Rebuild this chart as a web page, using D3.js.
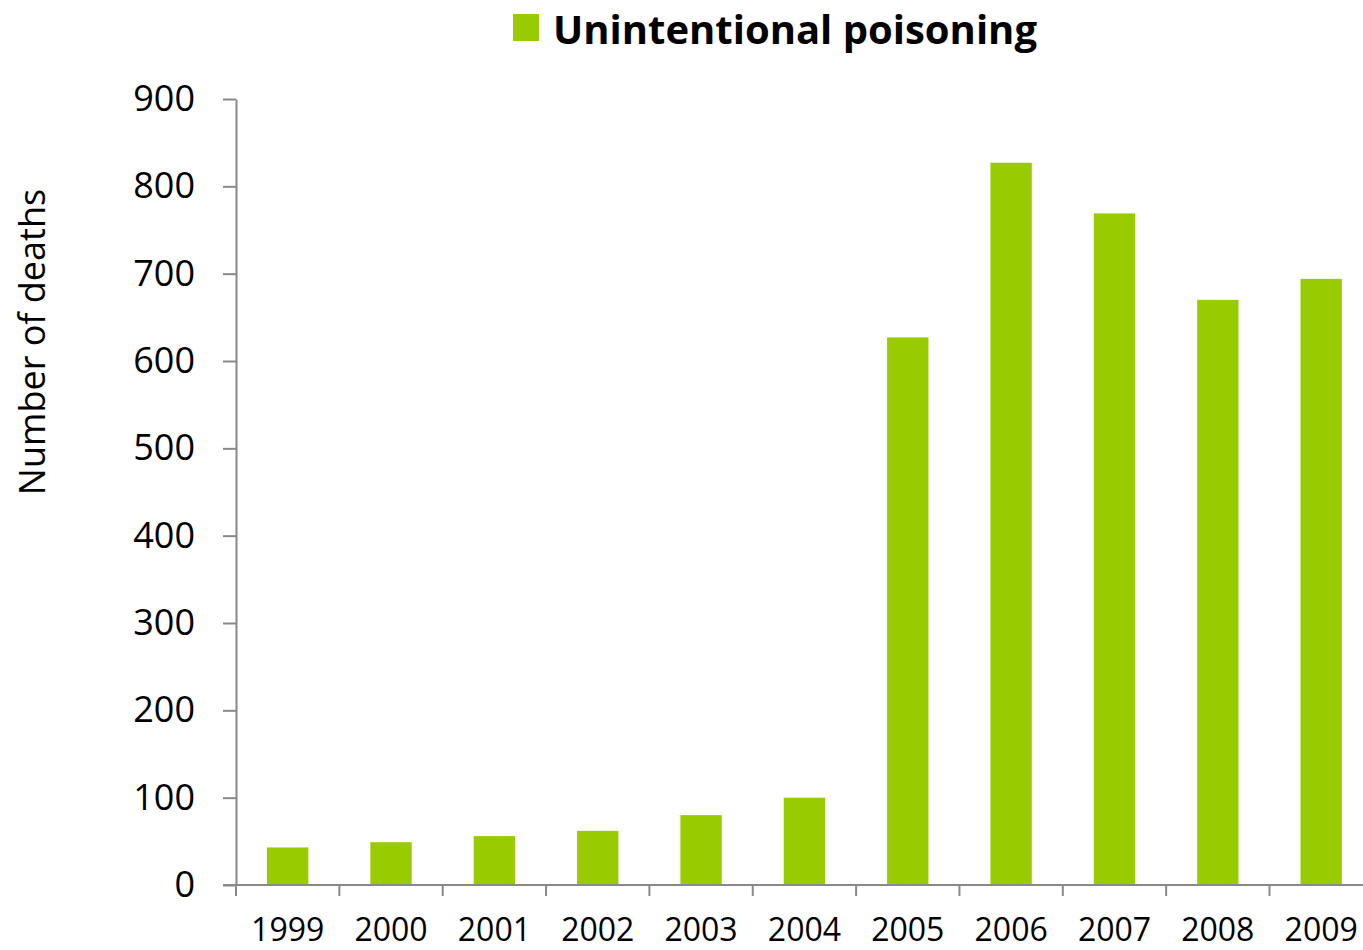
<!DOCTYPE html>
<html>
<head>
<meta charset="utf-8">
<script src="https://cdn.jsdelivr.net/npm/d3@7"></script>
<style>
  body { margin: 0; background: #fff; }
  text { font-family: "Open Sans", sans-serif; fill: #000; }
</style>
</head>
<body>
<div class="chart"></div>
<script>
// data
var years = ["1999", "2000", "2001", "2002", "2003", "2004", "2005", "2006", "2007", "2008", "2009"];
var deaths = [43, 49, 56, 62, 80, 100, 627, 827, 769, 670, 694];
var yTicks = [0, 100, 200, 300, 400, 500, 600, 700, 800, 900];
var seriesName = "Unintentional poisoning";

var W = 1363, H = 950;
var plotLeft = 236, plotTop = 99, plotBottom = 885;
var green = "#99cc00", axisColor = "#898989";

var svg = d3.select(".chart").append("svg")
    .attr("width", W)
    .attr("height", H);

var x = d3.scaleBand()
    .domain(years)
    .range([plotLeft, plotLeft + 11 * 103.35])
    .paddingInner(0.6)
    .paddingOuter(0.3);

var y = d3.scaleLinear()
    .domain([0, 900])
    .range([plotBottom, plotTop]);

// bars
svg.append("g").selectAll("rect")
    .data(deaths)
    .enter().append("rect")
    .attr("x", function(d, i) { return x(years[i]); })
    .attr("y", function(d) { return y(d); })
    .attr("width", x.bandwidth())
    .attr("height", function(d) { return y(0) - y(d); })
    .attr("fill", green);

// y axis
var yAxis = svg.append("g")
    .attr("transform", "translate(" + plotLeft + ",0)")
    .call(d3.axisLeft(y).tickValues(yTicks).tickSize(13).tickSizeOuter(0).tickPadding(28));
yAxis.selectAll("line, path").attr("stroke", axisColor).attr("stroke-width", 2);
yAxis.selectAll("text")
    .style("font-family", "'Open Sans', sans-serif")
    .style("font-size", "36px")
    .attr("fill", "#000");

// x axis: line, boundary ticks, labels
var step = x.step();
var xAxis = svg.append("g");
xAxis.append("line")
    .attr("x1", plotLeft - 13).attr("x2", W)
    .attr("y1", plotBottom).attr("y2", plotBottom)
    .attr("stroke", axisColor).attr("stroke-width", 2);
xAxis.selectAll(".tick")
    .data(d3.range(years.length + 1))
    .enter().append("line")
    .attr("x1", function(i) { return plotLeft + i * step; })
    .attr("x2", function(i) { return plotLeft + i * step; })
    .attr("y1", plotBottom).attr("y2", plotBottom + 11)
    .attr("stroke", axisColor).attr("stroke-width", 2);
xAxis.selectAll("text")
    .data(years)
    .enter().append("text")
    .attr("x", function(d) { return x(d) + x.bandwidth() / 2; })
    .attr("y", 941)
    .attr("text-anchor", "middle")
    .style("font-size", "32px")
    .text(function(d) { return d; });

// y title
svg.append("text")
    .attr("transform", "translate(45,342) rotate(-90)")
    .attr("text-anchor", "middle")
    .style("font-size", "36px")
    .text("Number of deaths");

// legend
svg.append("rect")
    .attr("x", 513).attr("y", 14)
    .attr("width", 26).attr("height", 27)
    .attr("fill", green);
svg.append("text")
    .attr("x", 553).attr("y", 44)
    .style("font-size", "40px")
    .style("font-weight", "bold")
    .text(seriesName);
</script>
</body>
</html>
